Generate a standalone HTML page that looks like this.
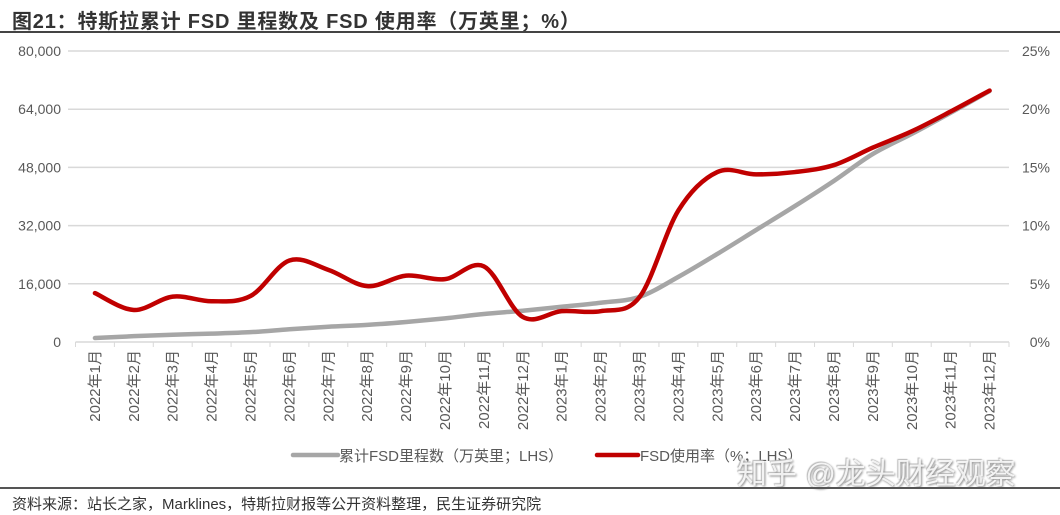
<!DOCTYPE html>
<html><head><meta charset="utf-8">
<style>
html,body{margin:0;padding:0;background:#fff;width:1060px;height:515px;overflow:hidden;font-family:"Liberation Sans","Noto Sans CJK SC",sans-serif;}
#title{position:absolute;left:12px;top:5px;font-size:20px;font-weight:bold;color:#333;letter-spacing:0.8px;}
#rule1{position:absolute;left:0;top:31px;width:1060px;height:2px;background:#444;}
#rule2{position:absolute;left:0;top:487px;width:1060px;height:2px;background:#555;}
#source{position:absolute;left:12px;top:493px;font-size:15px;color:#333;}
#wm{position:absolute;left:737px;top:449px;font-size:30px;color:rgba(255,255,255,0.85);text-shadow:1px 1px 2px #888,-1px -1px 1px #bbb;}
</style></head><body>
<div id="title">图21：特斯拉累计 FSD 里程数及 FSD 使用率（万英里；%）</div>
<div id="rule1"></div>
<svg id="chart" width="1060" height="515" style="position:absolute;left:0;top:0"></svg>
<div id="wm">知乎 @龙头财经观察</div>
<div id="rule2"></div>
<div id="source">资料来源：站长之家，Marklines，特斯拉财报等公开资料整理，民生证券研究院</div>
<script>
const months=["2022年1月","2022年2月","2022年3月","2022年4月","2022年5月","2022年6月","2022年7月","2022年8月","2022年9月","2022年10月","2022年11月","2022年12月","2023年1月","2023年2月","2023年3月","2023年4月","2023年5月","2023年6月","2023年7月","2023年8月","2023年9月","2023年10月","2023年11月","2023年12月"];
const mileage=[1100,1600,2000,2300,2700,3500,4200,4700,5500,6500,7700,8600,9700,10800,12400,17900,24200,30800,37400,44300,51700,57200,63000,69000];
const usageRate=[4.2,2.75,3.9,3.5,3.95,7.0,6.2,4.8,5.7,5.4,6.5,2.15,2.65,2.65,3.85,11.3,14.6,14.4,14.6,15.2,16.7,18.1,19.8,21.6];
const leftTicks=[0,16000,32000,48000,64000,80000];
const leftTickLabels=["0","16,000","32,000","48,000","64,000","80,000"];
const rightTicks=[0,5,10,15,20,25];
const rightTickLabels=["0%","5%","10%","15%","20%","25%"];

const NS="http://www.w3.org/2000/svg";
const svg=document.getElementById('chart');
const plotL=75.5,plotR=1009,y0=342,yTop=51;
const step=(plotR-plotL)/months.length;
function xAt(i){return plotL+step*(i+0.5);}
function yL(v){return y0-(v/80000)*(y0-yTop);}
function yR(v){return y0-(v/25)*(y0-yTop);}
function mk(tag,attrs){const e=document.createElementNS(NS,tag);for(const k in attrs)e.setAttribute(k,attrs[k]);svg.appendChild(e);return e;}

leftTicks.forEach((t,i)=>{
  if(t>0){const g=mk('line',{x1:68,x2:plotR,y1:yL(t),y2:yL(t),stroke:'#d9d9d9','stroke-width':1.5});
  
  }
  const tx=mk('text',{x:61,y:yL(t)+5,'text-anchor':'end','font-size':14,fill:'#595959'});
  tx.textContent=leftTickLabels[i];
  
  
});
rightTicks.forEach((t,i)=>{
  const tx=mk('text',{x:1050,y:yR(t)+5,'text-anchor':'end','font-size':14,fill:'#595959'});
  tx.textContent=rightTickLabels[i];
  
  
});
const ax=mk('line',{x1:plotL,x2:plotR,y1:y0,y2:y0,stroke:'#d9d9d9','stroke-width':1.5});


for(let i=0;i<=months.length;i++){
  const x=plotL+step*i;
  const tk=mk('line',{x1:x,x2:x,y1:y0,y2:y0+5,stroke:'#d9d9d9','stroke-width':1});
  
  
}
months.forEach((m,i)=>{
  const x=xAt(i)+5,y=350;
  const tx=mk('text',{x:x,y:y,'text-anchor':'end','font-size':15,fill:'#595959',transform:`rotate(-90 ${x} ${y})`});
  tx.textContent=m;
  
  
});
function smooth(pts){
  let d=`M${pts[0][0]},${pts[0][1]}`;
  for(let i=0;i<pts.length-1;i++){
    const p0=pts[i-1]||pts[i],p1=pts[i],p2=pts[i+1],p3=pts[i+2]||p2;
    const c1=[p1[0]+(p2[0]-p0[0])/6,p1[1]+(p2[1]-p0[1])/6];
    const c2=[p2[0]-(p3[0]-p1[0])/6,p2[1]-(p3[1]-p1[1])/6];
    d+=` C${c1[0]},${c1[1]} ${c2[0]},${c2[1]} ${p2[0]},${p2[1]}`;
  }
  return d;
}
const g1=mk('path',{d:smooth(mileage.map((v,i)=>[xAt(i),yL(v)])),fill:'none',stroke:'#a6a6a6','stroke-width':4.5,'stroke-linecap':'round'});


const r1=mk('path',{d:smooth(usageRate.map((v,i)=>[xAt(i),yR(v)])),fill:'none',stroke:'#c00000','stroke-width':4.5,'stroke-linecap':'round'});



const l1=mk('line',{x1:293,x2:338,y1:455,y2:455,stroke:'#a6a6a6','stroke-width':4.5,'stroke-linecap':'round'});


const t1=mk('text',{x:339,y:461,'font-size':15,fill:'#595959'});t1.textContent='累计FSD里程数（万英里；LHS）';


const l2=mk('line',{x1:597,x2:638,y1:455,y2:455,stroke:'#c00000','stroke-width':4.5,'stroke-linecap':'round'});


const t2=mk('text',{x:640,y:461,'font-size':15,fill:'#595959'});t2.textContent='FSD使用率（%；LHS）';


</script>
</body></html>
